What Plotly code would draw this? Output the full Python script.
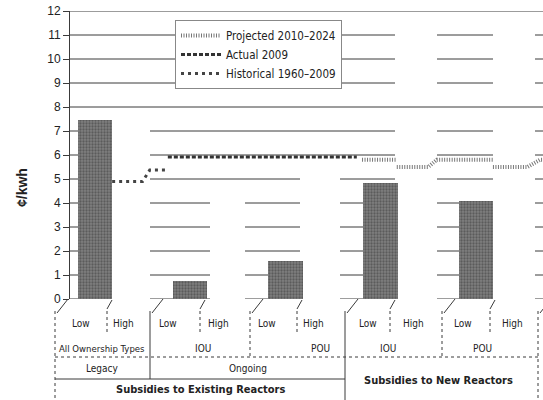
import plotly.graph_objects as go

# ---------------- data ----------------
y_ticks = list(range(0, 13))
col_labels = ["Low", "High", "Low", "High", "Low", "High", "Low", "High", "Low", "High"]
owner_labels = ["All Ownership Types", "IOU", "POU", "IOU", "POU"]
stage_labels = ["Legacy", "Ongoing"]
section_labels = ["Subsidies to Existing Reactors", "Subsidies to New Reactors"]

low_values = [7.45, 0.75, 1.6, 4.85, 4.1]          # subsidy, low estimate (¢/kwh)

proj_x = [5.61, 6.34, None, 6.34, 7.0, 7.18, 8.36, None, 8.36, 9.08, 9.35, 9.45]
proj_y = [5.8, 5.8, None, 5.5, 5.5, 5.8, 5.8, None, 5.5, 5.5, 5.8, 5.8]
act_x = [1.53, 5.5]
act_y = [5.92, 5.92]
hist_x = [0.36, 1.0, 1.15, 1.47]
hist_y = [4.9, 4.9, 5.37, 5.37]

# ---------------- layout constants ----------------
W, H = 543, 400
L, T, B = 70, 11, 101
PW, PH = W - L, H - T - B
X0PX, UNIT = 95.0, 47.6          # pixel of x=0 and pixels per x unit
FONT = "Liberation Sans Narrow, DejaVu Sans Condensed, Liberation Sans, Arial, sans-serif"
LC = "#3a3a3a"

def xu(px):
    return (px - X0PX) / UNIT

def pxp(px):
    return (px - L) / PW

def pyp(py):
    return (H - B - py) / PH

bar_x = [2 * i for i in range(len(low_values))]

fig = go.Figure()
fig.add_trace(go.Bar(
    x=bar_x, y=low_values, width=0.72, showlegend=False,
    marker=dict(color="#747474", line=dict(width=0),
                pattern=dict(shape=".", fgcolor="#353535", bgcolor="#808080",
                             size=3, solidity=0.45)),
    hoverinfo="skip"))
fig.add_trace(go.Scatter(x=proj_x, y=proj_y, mode="lines", name="Projected 2010\u20132024",
                         line=dict(color="#777", width=4, dash="1px,1.5px")))
fig.add_trace(go.Scatter(x=act_x, y=act_y, mode="lines", name="Actual 2009",
                         line=dict(color="#333", width=3, dash="4px,2px")))
fig.add_trace(go.Scatter(x=hist_x, y=hist_y, mode="lines", name="Historical 1960\u20132009",
                         line=dict(color="#444", width=3, dash="3px,4px")))

shapes = []
# gridline segments (pixel extents per level group)
full = [(70, 543)]
upper = [(70, 395), (437, 493), (535, 543)]
mid = [(70, 112), (150, 395), (437, 493), (535, 543)]
five = [(70, 112), (150, 300), (340, 395), (437, 493), (535, 543)]
low = [(70, 112), (150, 210), (245, 300), (340, 395), (437, 493), (535, 543)]
for v in y_ticks:
    if v in (8, 12):
        segs = full
    elif v in (9, 10, 11):
        segs = upper
    elif v in (6, 7):
        segs = mid
    elif v == 5:
        segs = five
    else:
        segs = low
    for a, b in segs:
        shapes.append(dict(type="line", xref="x", yref="y", x0=xu(a), x1=xu(b), y0=v, y1=v,
                           layer="below", line=dict(color=LC, width=1)))

def pline(x0, y0, x1, y1, dash="solid", w=1, color=LC):
    shapes.append(dict(type="line", xref="paper", yref="paper",
                       x0=pxp(x0), y0=pyp(y0), x1=pxp(x1), y1=pyp(y1),
                       line=dict(color=color, width=w, dash=dash)))

# table frame
pline(55, 311, 55, 400, "dot")
pline(150, 311, 150, 379)
pline(250, 311, 250, 357, "dot")
pline(345, 311, 345, 400)
pline(442, 311, 442, 357, "dot")
pline(538, 311, 538, 400, "dot")
pline(55, 357, 538, 357, "dot")
pline(55, 379, 345, 379)
for e in [55, 150, 250, 345, 442, 538]:
    pline(e + 2, 313, e + 13, 299)
for d in [107, 200, 297, 390, 490]:
    pline(d, 332, d, 309, "dot")
    pline(d, 309, d + 5, 300)

ann = []
def label(px, py, text, size=10, bold=False):
    ann.append(dict(x=pxp(px), y=pyp(py), xref="paper", yref="paper", showarrow=False,
                    text=("<b>%s</b>" % text) if bold else text,
                    font=dict(family=FONT, size=size, color="#222"),
                    xanchor="center", yanchor="middle"))

low_pos = [81, 168, 267, 368, 463]
high_pos = [123, 218, 313, 413, 512]
for i in range(5):
    label(low_pos[i], 323, col_labels[2 * i])
    label(high_pos[i], 323, col_labels[2 * i + 1])
for txt, px in zip(owner_labels, [102, 203, 320, 388, 482]):
    label(px, 348, txt, size=9.5 if len(txt) > 5 else 10)
label(102, 368, stage_labels[0])
label(248, 368, stage_labels[1])
label(200, 389, section_labels[0], size=11, bold=True)
label(438, 380, section_labels[1], size=11, bold=True)

ann.append(dict(x=pxp(22), y=pyp(188), xref="paper", yref="paper", showarrow=False,
                text="<b>\u00a2/kwh</b>", textangle=-90,
                font=dict(family="Liberation Sans, Arial, sans-serif", size=14, color="#222"),
                xanchor="center", yanchor="middle"))

fig.update_layout(
    width=W, height=H, margin=dict(l=L, r=0, t=T, b=B, pad=0),
    paper_bgcolor="white", plot_bgcolor="white",
    xaxis=dict(range=[xu(70), xu(543)], showgrid=False, zeroline=False,
               showticklabels=False, showline=False, ticks=""),
    yaxis=dict(range=[0, 12], tickvals=y_ticks, showgrid=False, zeroline=False,
               showline=True, linecolor=LC, linewidth=1, ticks="outside", ticklen=6,
               tickcolor=LC, automargin=False,
               tickfont=dict(family="Liberation Sans, Arial, sans-serif", size=12, color="#222")),
    showlegend=True,
    legend=dict(x=pxp(175), y=pyp(20), xanchor="left", yanchor="top",
                bgcolor="white", bordercolor="#888", borderwidth=1,
                font=dict(family=FONT, size=11.5, color="#222"),
                itemwidth=40, tracegroupgap=0, traceorder="normal"),
    shapes=shapes, annotations=ann, bargap=0,
)

fig.write_html("out.html", config={"displayModeBar": False},
               post_script="document.body.style.margin='0';document.body.style.padding='0';"
                           "document.body.style.overflow='hidden';")
